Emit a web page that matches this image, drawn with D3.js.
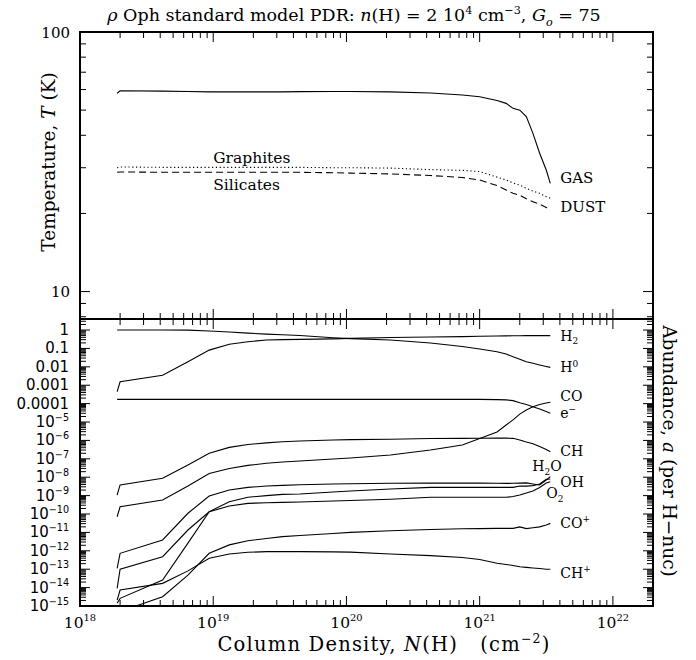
<!DOCTYPE html>
<html><head><meta charset="utf-8">
<script src="https://cdn.jsdelivr.net/npm/d3@7"></script>
<style>body{margin:0;background:#fff}svg{display:block}</style>
</head><body>
<svg id="chart" width="696" height="660"></svg>
<script>
// ---------------- DATA ----------------
const columnDensity = [1.9e18, 2.0e18, 4.17e18, 6.46e18, 9.33e18, 1.32e19, 1.82e19, 2.51e19, 3.31e19, 4.47e19,
  7.94e19, 1.07e20, 2.14e20, 4.27e20, 7.41e20, 1.0e21, 1.35e21, 1.58e21, 1.78e21, 2.0e21, 2.24e21, 2.51e21,
  2.82e21, 3.16e21, 3.39e21];

// Temperatures (K)
const gasT      = [58.1, 59.4, 59.2, 59.0, 58.8, 58.8, 58.8, 58.8, 58.8, 58.9, 59.0, 59.0, 58.8, 58.2, 57.2, 56.3, 54.5, 53.1, 50.8, 50.0, 47.2, 40.7, 34.1, 29.4, 26.1];
const graphiteT = [30.0, 30.2, 30.1, 30.1, 30.1, 30.1, 30.1, 30.1, 30.1, 30.1, 30.0, 30.0, 29.9, 29.5, 29.3, 29.0, 27.6, 26.9, 26.2, 25.7, 25.0, 24.4, 23.9, 23.2, 22.9];
const silicateT = [28.8, 28.9, 28.8, 28.8, 28.8, 28.8, 28.8, 28.8, 28.8, 28.8, 28.7, 28.6, 28.4, 28.0, 27.5, 26.9, 25.6, 24.6, 23.9, 23.5, 22.8, 22.2, 21.7, 21.1, 20.6];

// Abundances (per H nucleus)
const abH2   = [4.5e-4, 1.55e-3, 3.5e-3, 0.019, 0.081, 0.17, 0.23, 0.29, 0.30, 0.31, 0.33, 0.35, 0.39, 0.42, 0.44, 0.46, 0.47, 0.48, 0.49, 0.49, 0.50, 0.50, 0.50, 0.50, 0.50];
const abH    = [1.0, 1.0, 1.0, 0.99, 0.88, 0.78, 0.68, 0.60, 0.55, 0.50, 0.38, 0.34, 0.29, 0.196, 0.127, 0.093, 0.066, 0.050, 0.035, 0.026, 0.019, 0.0155, 0.0126, 0.0104, 0.0093];
const abElec = [1.7e-4, 1.7e-4, 1.7e-4, 1.7e-4, 1.7e-4, 1.7e-4, 1.7e-4, 1.7e-4, 1.7e-4, 1.7e-4, 1.7e-4, 1.7e-4, 1.7e-4, 1.7e-4, 1.7e-4, 1.7e-4, 1.65e-4, 1.6e-4, 1.45e-4, 1.12e-4, 8.9e-5, 6.8e-5, 5.1e-5, 3.7e-5, 3.0e-5];
const abCO   = [7.1e-11, 2.5e-10, 5.8e-10, 3.3e-9, 1.6e-8, 3.0e-8, 4.4e-8, 5.7e-8, 6.7e-8, 7.6e-8, 9.8e-8, 1.1e-7, 1.6e-7, 3.0e-7, 5.6e-7, 1.26e-6, 2.9e-6, 6.9e-6, 1.3e-5, 2.7e-5, 4.5e-5, 6.8e-5, 8.9e-5, 1.07e-4, 1.2e-4];
const abCH   = [1.07e-9, 3.8e-9, 8.7e-9, 4.6e-8, 2.0e-7, 4.2e-7, 6.0e-7, 7.4e-7, 8.5e-7, 9.3e-7, 1.05e-6, 1.1e-6, 1.15e-6, 1.26e-6, 1.3e-6, 1.32e-6, 1.35e-6, 1.33e-6, 1.3e-6, 1.05e-6, 8.2e-7, 6.6e-7, 4.7e-7, 3.2e-7, 2.4e-7];
const abH2O  = [1.1e-13, 7.3e-13, 3.9e-12, 1.1e-10, 9.5e-10, 2.0e-9, 2.8e-9, 3.3e-9, 3.6e-9, 3.9e-9, 4.3e-9, 4.4e-9, 4.7e-9, 4.8e-9, 4.8e-9, 4.8e-9, 4.7e-9, 4.6e-9, 4.7e-9, 4.8e-9, 4.9e-9, 4.3e-9, 3.8e-9, 7.1e-9, 1.07e-8];
const abOH   = [9.1e-15, 1.0e-13, 4.8e-13, 1.35e-11, 1.33e-10, 4.7e-10, 8.1e-10, 1.0e-9, 1.17e-9, 1.23e-9, 1.58e-9, 1.78e-9, 2.3e-9, 2.8e-9, 2.8e-9, 2.8e-9, 2.8e-9, 2.8e-9, 2.8e-9, 3.3e-9, 3.3e-9, 3.5e-9, 4.3e-9, 7.7e-9, 8.0e-9];
const abO2   = [1.4e-15, 2.6e-15, 2.6e-14, 2.6e-12, 1.33e-10, 2.7e-10, 3.8e-10, 4.1e-10, 4.3e-10, 4.5e-10, 5.1e-10, 5.4e-10, 6.3e-10, 8.1e-10, 8.1e-10, 8.1e-10, 8.1e-10, 8.1e-10, 8.9e-10, 1.07e-9, 1.38e-9, 1.78e-9, 2.75e-9, 4.8e-9, 5.7e-9];
const abCOp  = [1e-16, 5e-16, 3.2e-15, 4.8e-14, 7.3e-13, 2.1e-12, 3.5e-12, 4.7e-12, 5.9e-12, 6.8e-12, 8.7e-12, 1.0e-11, 1.23e-11, 1.43e-11, 1.58e-11, 1.6e-11, 1.66e-11, 1.66e-11, 1.66e-11, 2.0e-11, 1.6e-11, 1.8e-11, 2.0e-11, 2.5e-11, 3.1e-11];
const abCHp  = [2.1e-15, 7.4e-15, 1.7e-14, 8.1e-14, 3.9e-13, 6.7e-13, 8.3e-13, 9.0e-13, 9.0e-13, 9.0e-13, 8.8e-13, 8.5e-13, 6.7e-13, 5.5e-13, 4.3e-13, 3.4e-13, 2.1e-13, 1.8e-13, 1.6e-13, 1.37e-13, 1.26e-13, 1.17e-13, 1.1e-13, 1.0e-13, 1.0e-13];

// Tick labels
const xTickExponents = [18, 19, 20, 21, 22];
const tempTickLabels = ["10", "100"];
const abTickLabels = ["1", "0.1", "0.01", "0.001", "0.0001", "10^-5", "10^-6", "10^-7", "10^-8", "10^-9",
  "10^-10", "10^-11", "10^-12", "10^-13", "10^-14", "10^-15"];

// ---------------- LAYOUT ----------------
const SERIF = "'DejaVu Serif', serif";
const SANS = "'DejaVu Sans', sans-serif";
const L = 80, R = 653, TOP = 32, MID = 319, BOT = 606;

const svg = d3.select("#chart");
const x = d3.scaleLog().domain([1e18, 2e22]).range([L, R]);
const yT = d3.scaleLog().domain([7.84, 100]).range([MID, TOP]);
const yA = d3.scaleLog().domain([1e-15, 3.98]).range([BOT, MID]);

// rich text helper: parts = [{t, s:'sup'|'sub', it:bool}]
function rich(g, px, py, parts, fs, font, anchor, ls) {
  const t = g.append("text").attr("x", px).attr("y", py)
    .attr("font-family", font).attr("font-size", fs).attr("text-anchor", anchor || "start")
    .attr("fill", "#000");
  if (ls) t.attr("letter-spacing", ls);
  let cur = 0;
  parts.forEach(p => {
    let off = 0, size = fs;
    if (p.s === "sup") { off = -0.42 * fs; size = fs * 0.64; }
    if (p.s === "sub") { off = 0.28 * fs; size = fs * 0.64; }
    const ts = t.append("tspan").attr("dy", off - cur).attr("font-size", size).text(p.t);
    if (p.it) ts.attr("font-style", "italic");
    cur = off;
  });
  return t;
}
function sci(str) { // "10^-5" -> parts
  const [b, e] = str.split("^");
  return e ? [{t: b}, {t: e.replace("-", "\u2212"), s: "sup"}] : [{t: b}];
}

// clip paths
const defs = svg.append("defs");
defs.append("clipPath").attr("id", "clipT").append("rect").attr("x", L).attr("y", TOP).attr("width", R - L).attr("height", MID - TOP);
defs.append("clipPath").attr("id", "clipA").append("rect").attr("x", L).attr("y", MID).attr("width", R - L).attr("height", BOT - MID);

// ---------------- TICKS ----------------
const tickG = svg.append("g").attr("stroke", "#000").attr("stroke-width", 1);
const xMinor = [], xMajor = [];
for (let d = 18; d <= 22; d++) for (let m = 1; m <= 9; m++) {
  const v = m * Math.pow(10, d);
  if (v <= 1e18 || v >= 2e22) continue;
  (m === 1 ? xMajor : xMinor).push(v);
}
function xTicks(yEdge, dir) {
  xMajor.forEach(v => tickG.append("line").attr("x1", x(v)).attr("x2", x(v)).attr("y1", yEdge).attr("y2", yEdge + dir * 10));
  xMinor.forEach(v => tickG.append("line").attr("x1", x(v)).attr("x2", x(v)).attr("y1", yEdge).attr("y2", yEdge + dir * 6));
}
xTicks(TOP, 1); xTicks(MID, -1); xTicks(MID, 1); xTicks(BOT, -1);

function yTicks(scale, lo, hi, dMin, dMax) {
  for (let d = dMin; d <= dMax; d++) for (let m = 1; m <= 9; m++) {
    const v = m * Math.pow(10, d);
    if (v <= lo || v >= hi) continue;
    const len = m === 1 ? 10 : 6;
    const yy = scale(v);
    tickG.append("line").attr("x1", L).attr("x2", L + len).attr("y1", yy).attr("y2", yy);
    tickG.append("line").attr("x1", R).attr("x2", R - len).attr("y1", yy).attr("y2", yy);
  }
}
yTicks(yT, 7.84, 99.9, 0, 2);
yTicks(yA, 1e-15, 3.98, -15, 0);

// ---------------- TEMPERATURE PANEL ----------------
const gT = svg.append("g").attr("clip-path", "url(#clipT)").attr("fill", "none").attr("stroke", "#000").attr("stroke-width", 1.1);
const lineT = d3.line().x((d, i) => x(columnDensity[i])).y(d => yT(d));
gT.append("path").attr("d", lineT(gasT));
gT.append("path").attr("d", lineT(graphiteT)).attr("stroke-dasharray", "1.2,2.6");
gT.append("path").attr("d", lineT(silicateT)).attr("stroke-dasharray", "7,4");

const last = columnDensity.length - 1;
const labT = svg.append("g");
rich(labT, x(1e19), yT(graphiteT[10]) - 5, [{t: "Graphites"}], 15.5, SERIF);
rich(labT, x(1e19), yT(silicateT[10]) + 17, [{t: "Silicates"}], 15.5, SERIF);
rich(labT, x(columnDensity[last]) + 10, yT(gasT[last]), [{t: "GAS"}], 15, SERIF);
rich(labT, x(columnDensity[last]) + 10, yT(silicateT[last]) + 2, [{t: "DUST"}], 15, SERIF);

// ---------------- ABUNDANCE PANEL ----------------
const series = [
  {v: abH2,   lab: [{t: "H"}, {t: "2", s: "sub"}], dx: 10, dy: 5},
  {v: abH,    lab: [{t: "H"}, {t: "0", s: "sup"}], dx: 10, dy: 5},
  {v: abCO,   lab: [{t: "CO"}], dx: 10, dy: -1.5},
  {v: abElec, lab: [{t: "e"}, {t: "\u2212", s: "sup"}], dx: 10, dy: 4.5},
  {v: abCH,   lab: [{t: "CH"}], dx: 10, dy: 4},
  {v: abH2O,  lab: [{t: "H"}, {t: "2", s: "sub"}, {t: "O"}], dx: -18, dy: -6},
  {v: abOH,   lab: [{t: "OH"}], dx: 10, dy: 8},
  {v: abO2,   lab: [{t: "O"}, {t: "2", s: "sub"}], dx: -4, dy: 16},
  {v: abCOp,  lab: [{t: "CO"}, {t: "+", s: "sup"}], dx: 10, dy: 5},
  {v: abCHp,  lab: [{t: "CH"}, {t: "+", s: "sup"}], dx: 10, dy: 9}
];
const gA = svg.append("g").attr("clip-path", "url(#clipA)").attr("fill", "none").attr("stroke", "#000").attr("stroke-width", 1.1);
const lineA = d3.line().x((d, i) => x(columnDensity[i])).y(d => yA(d));
series.forEach(s => gA.append("path").attr("d", lineA(s.v)));
const labA = svg.append("g");
series.forEach(s => rich(labA, x(columnDensity[last]) + s.dx, yA(s.v[last]) + s.dy, s.lab, 14, SERIF));

// ---------------- FRAMES ----------------
const fr = svg.append("g").attr("fill", "none").attr("stroke", "#000").attr("stroke-width", 2);
fr.append("rect").attr("x", L).attr("y", TOP).attr("width", R - L).attr("height", MID - TOP);
fr.append("rect").attr("x", L).attr("y", MID).attr("width", R - L).attr("height", BOT - MID);

// ---------------- TICK LABELS ----------------
const tl = svg.append("g");
tempTickLabels.forEach(s => rich(tl, 70, yT(+s) + 5.5, [{t: s}], 15, SERIF, "end"));
abTickLabels.forEach((s, i) => rich(tl, 69, yA(Math.pow(10, -i)) + 5, sci(s), 15, SANS, "end"));
xTickExponents.forEach(e => rich(tl, x(Math.pow(10, e)), 628, [{t: "10"}, {t: String(e), s: "sup"}], 15.5, SERIF, "middle"));

// ---------------- TITLES ----------------
rich(svg, 354, 21, [{t: "\u03c1", it: true}, {t: " Oph standard model PDR: "}, {t: "n", it: true}, {t: "(H) = 2 10"},
  {t: "4", s: "sup"}, {t: " cm"}, {t: "\u22123", s: "sup"}, {t: ", "}, {t: "G", it: true}, {t: "o", s: "sub", it: true}, {t: " = 75"}],
  17.5, SERIF, "middle");
rich(svg, 384, 651, [{t: "Column Density, "}, {t: "N", it: true}, {t: "(H)\u00a0\u00a0\u00a0(cm"}, {t: "\u22122", s: "sup"}, {t: ")"}],
  19.5, SERIF, "middle", 1.2);
const yl = svg.append("g").attr("transform", "translate(55,162) rotate(-90)");
rich(yl, 0, 0, [{t: "Temperature, "}, {t: "T", it: true}, {t: " (K)"}], 18.5, SERIF, "middle");
const yr = svg.append("g").attr("transform", "translate(663,451) rotate(90)");
rich(yr, 0, 0, [{t: "Abundance, "}, {t: "a", it: true}, {t: " (per H\u2212nuc)"}], 18.5, SERIF, "middle");
</script>
</body></html>
